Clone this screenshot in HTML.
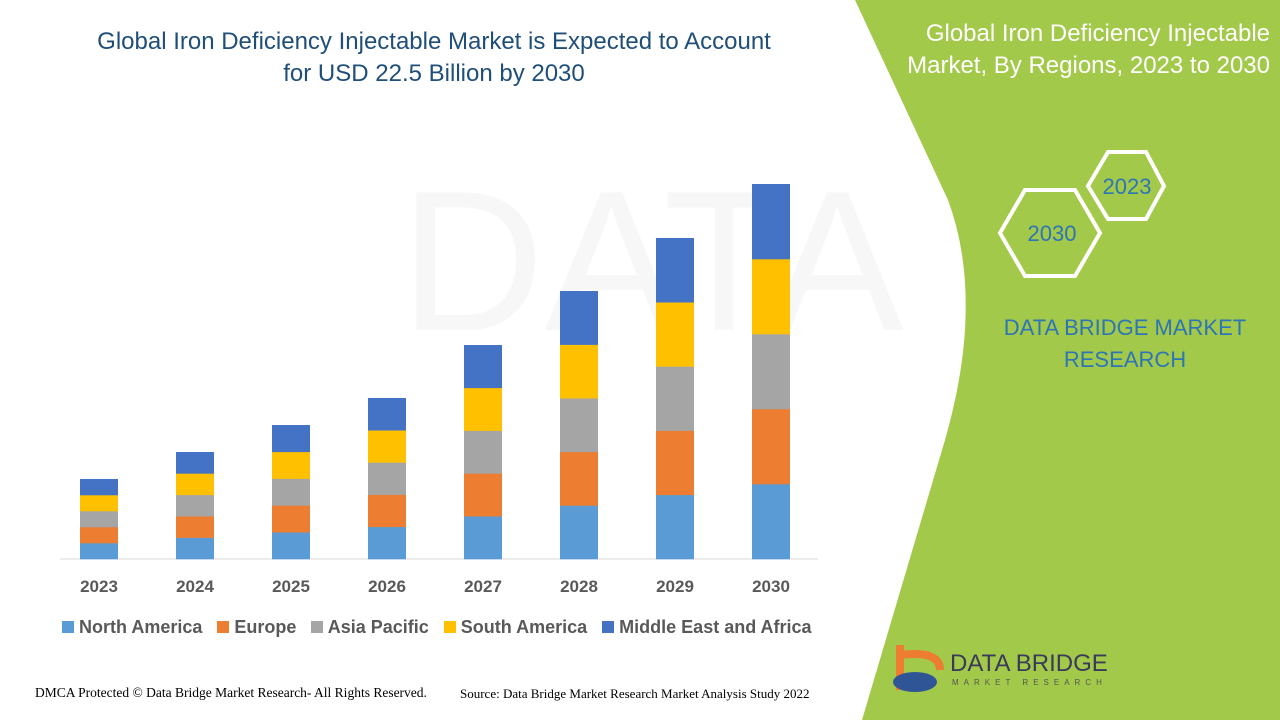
<!DOCTYPE html>
<html><head><meta charset="utf-8"><style>
body{margin:0;width:1280px;height:720px;overflow:hidden;background:#fff;font-family:"Liberation Sans",sans-serif;position:relative}
.t{position:absolute;white-space:nowrap}
</style></head><body>
<svg width="1280" height="720" style="position:absolute;left:0;top:0">
<text x="400" y="330" font-size="200" fill="#f7f7f7" font-family="Liberation Sans">DATA BRIDGE</text>
<path d="M855,0 L1280,0 L1280,720 L862,720 L945,440 Q985,300 948,200 Z" fill="#a3c94a"/>
<line x1="60" y1="559" x2="818" y2="559" stroke="#d9d9d9" stroke-width="1"/>
<g id="bars"></g>
<polygon points="1000,233 1025,190 1075,190 1100,233 1075,276 1025,276" fill="none" stroke="#fff" stroke-width="4"/>
<polygon points="1088,186 1108,152 1146,152 1164,186 1146,219 1108,219" fill="none" stroke="#fff" stroke-width="4"/>
<text x="1052" y="241" font-size="22" fill="#2e75b6" text-anchor="middle">2030</text>
<text x="1127" y="194" font-size="22" fill="#2e75b6" text-anchor="middle">2023</text>
<path d="M900,645 L900,690 M900,655 Q940,650 940,670" stroke="#ed7d31" stroke-width="8" fill="none"/>
<ellipse cx="915" cy="682" rx="22" ry="10" fill="#2f5597"/>
</svg>
<script>
var tops=[479,452,425,398,345,291,238,184],cols=["#5b9bd5","#ed7d31","#a5a5a5","#ffc000","#4472c4"],s="";
tops.forEach(function(t,i){var x=80+96*i,h=(559-t)/5;for(var k=0;k<5;k++){s+='<rect x="'+x+'" y="'+(559-h*(k+1))+'" width="38" height="'+(h+0.3)+'" fill="'+cols[k]+'"/>';}
s+='<text x="'+(x+19)+'" y="592" font-size="17" font-weight="bold" fill="#595959" text-anchor="middle" font-family="Liberation Sans">'+(2023+i)+'</text>';});
document.getElementById("bars").innerHTML=s;
</script>
<div class="t" style="left:34px;top:26px;width:800px;text-align:center;font-size:24px;line-height:32px;color:#1f4e79">Global Iron Deficiency Injectable Market is Expected to Account<br>for USD 22.5 Billion by 2030</div>
<div class="t" style="left:62px;top:617px;font-size:18px;font-weight:bold;color:#595959">
<span style="display:inline-block;width:12px;height:12px;background:#5b9bd5"></span> North America&nbsp;&nbsp;
<span style="display:inline-block;width:12px;height:12px;background:#ed7d31"></span> Europe&nbsp;&nbsp;
<span style="display:inline-block;width:12px;height:12px;background:#a5a5a5"></span> Asia Pacific&nbsp;&nbsp;
<span style="display:inline-block;width:12px;height:12px;background:#ffc000"></span> South America&nbsp;&nbsp;
<span style="display:inline-block;width:12px;height:12px;background:#4472c4"></span> Middle East and Africa</div>
<div class="t" style="right:10px;top:18px;text-align:right;font-size:24px;line-height:32px;color:#fff">Global Iron Deficiency Injectable<br>Market, By Regions, 2023 to 2030</div>
<div class="t" style="left:990px;top:312px;width:270px;text-align:center;font-size:22px;line-height:32px;color:#2e75b6">DATA BRIDGE MARKET<br>RESEARCH</div>
<div class="t" style="left:950px;top:650px;font-size:24px;color:#3a3a5a">DATA BRIDGE</div>
<div class="t" style="left:952px;top:678px;font-size:8px;letter-spacing:5px;color:#555">MARKET RESEARCH</div>
<div class="t" style="left:35px;top:685px;font-size:13.5px;font-family:'Liberation Serif',serif;color:#000">DMCA Protected © Data Bridge Market Research- All Rights Reserved.</div>
<div class="t" style="left:460px;top:686px;font-size:13px;font-family:'Liberation Serif',serif;color:#000">Source: Data Bridge Market Research Market Analysis Study 2022</div>
</body></html>
